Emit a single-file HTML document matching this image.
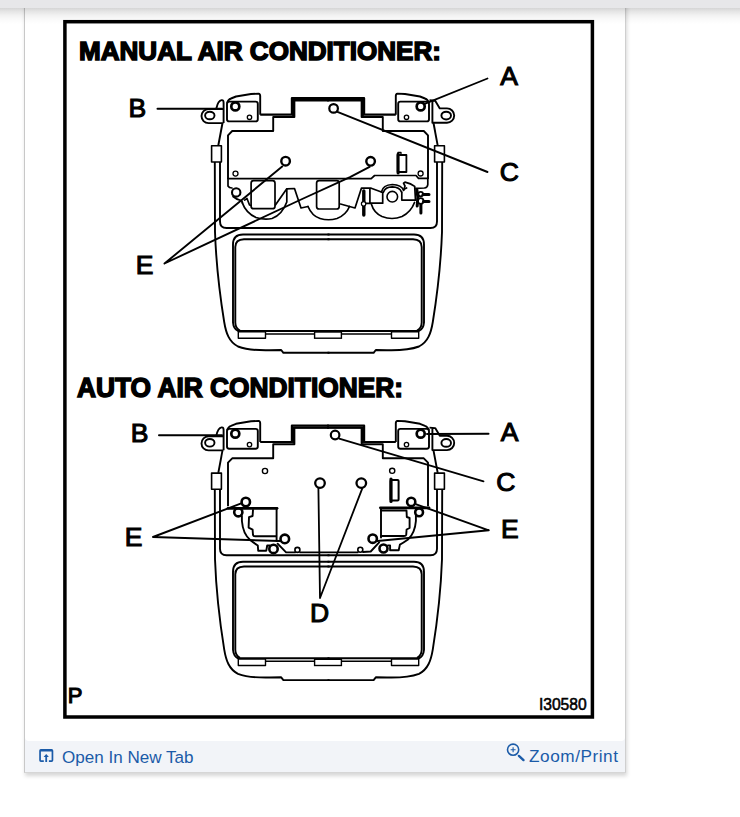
<!DOCTYPE html>
<html><head><meta charset="utf-8"><title>Diagram</title>
<style>
html,body{margin:0;padding:0;background:#fff;}
body{width:740px;height:817px;position:relative;overflow:hidden;font-family:"Liberation Sans",sans-serif;}
.card{position:absolute;left:24px;top:0;width:600px;height:772px;background:#f2f4f8;border-left:1px solid #c8c8c8;border-right:1px solid #cfcfcf;border-bottom:1px solid #d6d6d6;box-shadow:1px 3px 4px rgba(0,0,0,.16);}
.inner{position:absolute;left:0;top:0;width:600px;height:741px;background:#fff;border-radius:0 0 4px 4px;}
.topbar{position:absolute;left:0;top:0;width:740px;height:8px;background:#e7e7e9;}
.tshadow{position:absolute;left:0;top:8px;width:740px;height:16px;background:linear-gradient(rgba(0,0,0,.165),rgba(0,0,0,.10) 22%,rgba(0,0,0,.055) 45%,rgba(0,0,0,.022) 70%,rgba(0,0,0,0));}
svg.d{position:absolute;left:0;top:0;}
</style></head>
<body>
<div class="card"><div class="inner"></div></div>
<div class="topbar"></div><div class="tshadow"></div>
<svg class="d" width="740" height="817" viewBox="0 0 740 817">
<defs>
<g id="halfA" fill="none" stroke="#000" stroke-linecap="butt" stroke-linejoin="round" stroke-width="1.9">
<path d="M227.3 103 Q228 99.5 231 98.5 L236 96.5 L251 94 L258.5 93.6 Q260.2 93.8 260.2 96 L260.2 114.7"/>
<rect x="227" y="101.6" width="30.8" height="19.8" rx="2.2"/>
<circle cx="235.3" cy="106.4" r="4" stroke-width="2.7"/>
<circle cx="249.5" cy="117.3" r="2.2" stroke-width="1.3"/>
<path d="M260.2 114.7 L291.9 114.7 L291.9 98.2 L328.8 98.2" stroke-width="2.2"/>
<path d="M328.8 100.6 L294.4 100.6 L294.4 117 L273.2 117 L273.2 131 L232.2 131 L228 135.3 L228 179"/>
<path d="M292 100 L328.8 100 M293.2 99 L293.2 116" stroke-width="2.2"/>
<path d="M222.5 123 L218.3 145.5"/>
<rect x="211.6" y="145.8" width="9.8" height="16.2" stroke-width="1.6"/>
</g>
<g id="halfB" fill="none" stroke="#000" stroke-linecap="butt" stroke-linejoin="round" stroke-width="1.9">
<path d="M214.8 162 L215 232 C216 260 219 290 224.2 322 C226 333 229 342 238 346.5 C246 349.5 258 350.5 270 350.2 L281.2 350 L283.4 352.8 L329.5 352.8"/>
<path d="M220 162 L220 221.5 Q220 228 226.5 228 L329.5 228"/>
<path d="M329.5 234.5 L243 234.5 Q233 234.5 233 244.5 L233 322.5 Q233.5 329 238 331 L329.5 331"/>
<path d="M329.5 239.2 L244 239.2 Q235.3 239.5 235.3 247 L235.3 322.5 Q235.5 328.5 240 330.5"/>
<path d="M238 334 L329.5 334" stroke-width="1.5"/>
<rect x="238.3" y="331.8" width="27.2" height="6.4" stroke-width="1.4" fill="#fff"/>
</g>
<g id="body">
<use href="#halfA"/>
<use href="#halfB"/>
<use href="#ears"/>
<use href="#halfA" transform="translate(656 0) scale(-1 1)"/>
<use href="#halfB" transform="translate(657 0) scale(-1 1)"/>
<rect x="314.6" y="332" width="26.8" height="6.2" fill="#fff" stroke="#000" stroke-width="1.4"/>
</g>
<g id="ears" fill="none" stroke="#000" stroke-linecap="butt" stroke-linejoin="round" stroke-width="1.9">
<path d="M223.3 109.1 L208.5 109.1 A7 7 0 0 0 208.5 123.1 L223.3 123.1"/>
<ellipse cx="209.8" cy="115.5" rx="4.7" ry="3.8"/>
<path d="M216.4 108.2 C217.4 103.5 219 100.5 221.6 100.1 C223.2 99.9 223.6 101 223.6 103 L223.6 123"/>
<path d="M432.4 100.5 L432.4 122.8 L447 122.8 A7 7 0 0 0 447 108.4 L439.8 108.4 L435.2 100.8 L429.5 100.3"/>
<ellipse cx="446.2" cy="115.6" rx="4.8" ry="3.9"/>
</g>
</defs>
<g fill="none" stroke="#000" stroke-linecap="round" stroke-linejoin="round">
<rect x="64.9" y="21.7" width="527.5" height="695.3" stroke-width="3.5" stroke-linejoin="miter"/>
</g>
<use href="#body"/>
<use href="#body" transform="translate(0 327.3)"/>
<g id="auto" fill="none" stroke="#000" stroke-linecap="round" stroke-linejoin="round" stroke-width="1.9">
<circle cx="265" cy="471" r="2.6" stroke-width="1.4"/>
<circle cx="392.2" cy="470.8" r="2.6" stroke-width="1.4"/>
<circle cx="320" cy="483.1" r="4.8" stroke-width="2.3"/>
<circle cx="361.3" cy="483.1" r="4.8" stroke-width="2.3"/>
<circle cx="335.1" cy="435" r="4.3" stroke-width="2.2"/>
<!-- slide switch -->
<rect x="390.6" y="480" width="8" height="20.6" rx="1" stroke-width="2"/>
<path d="M391 479 L391 501.5" stroke-width="3.2"/>
<!-- left square -->
<path d="M228 508.3 L277 508.3" stroke-width="2.8"/>
<path d="M276.6 508 L276.6 541"/>
<path d="M253 510 L252.6 516 L249 517.2 L248.6 527.6 L252.6 529.6 L253 535 Q253.3 536.3 255 536.3 L276 536.3"/>
<path d="M241.9 516 L241.9 521 Q243 534 250.2 539.9 Q254 543 257.8 545.5 L258.2 550.7 L266.3 550.7 L267.2 545.5 L269.8 545.5"/>
<circle cx="245.8" cy="502" r="4.2" stroke-width="2.6"/>
<circle cx="238.3" cy="512.3" r="4.1" stroke-width="2.6"/>
<circle cx="284.8" cy="538.9" r="4.3" stroke-width="2.6"/>
<circle cx="273.5" cy="548.9" r="4.2" stroke-width="2.6"/>
<path d="M277.6 543.7 L286.1 552.4 L295 552.4 M300.2 552.4 L357.6 552.4 M363 552 L370.7 551.5 L379.2 542.4"/>
<circle cx="297.4" cy="549.9" r="2.5" stroke-width="1.6"/><circle cx="360.3" cy="549.8" r="2.5" stroke-width="1.6"/>
<!-- right square -->
<path d="M380.4 507.8 L429 507.8" stroke-width="2.8"/>
<path d="M381 508 L381 537.5"/>
<path d="M381 510.5 L406.5 510.5 L406.8 517 L409.6 518 L409.6 528 L406.6 529.5 L406.2 535 Q405.8 536 404 536 L381 536"/>
<path d="M415.9 515 L415.9 521 Q415 533 408 539.5 Q403 543 399.9 544.6 L398.7 550.3 L390.1 550.3 L390.1 545.4 L388 545.4"/>
<circle cx="411.2" cy="501.9" r="4.1" stroke-width="2.6"/>
<circle cx="419.1" cy="512.3" r="3.9" stroke-width="2.6"/>
<circle cx="372.7" cy="538.7" r="4.2" stroke-width="2.6"/>
<circle cx="383.5" cy="548.5" r="4" stroke-width="2.6"/>
<!-- leader lines -->
<path d="M153 537 L241.2 503.4 M153 537 L280 541" stroke-width="1.9"/>
<path d="M488.8 530.3 L416.3 504.3 M488.8 530.3 L377.4 541" stroke-width="1.9"/>
<path d="M320 598 L318.4 488.3 M320 598 L362.2 488.6" stroke-width="1.8"/>
<path d="M159 435.3 L222 435.3" stroke-width="2"/>
<path d="M427 434 L488.5 433.8" stroke-width="2"/>
<path d="M339.2 438.6 L483.5 481.3" stroke-width="1.9"/>
</g>
<g id="manual" fill="none" stroke="#000" stroke-linecap="round" stroke-linejoin="round" stroke-width="1.7">
<path d="M228 179 L228 186 Q229 188 232 188"/>
<path d="M228 178.6 L371.2 178.6 L374.6 175.5 L416 175.5 L418.5 178.4 L427.5 178.4"/>
<path d="M427.8 178.4 L427.8 184.5 Q427.6 187.8 424.3 188 L415.8 188.3"/>
<circle cx="235.5" cy="173.6" r="2.5" stroke-width="1.3"/>
<circle cx="420.6" cy="173.5" r="2.5" stroke-width="1.3"/>
<circle cx="285.6" cy="161.2" r="4.3" stroke-width="2.4"/>
<circle cx="370.6" cy="161.3" r="4.3" stroke-width="2.4"/>
<circle cx="333.6" cy="108.4" r="4.3" stroke-width="2.2"/>
<!-- slide switch -->
<rect x="397.6" y="155" width="8.8" height="17" stroke-width="1.8"/>
<path d="M398.1 154 L398.1 173" stroke-width="3"/>
<path d="M398 155 L398 152.5 L401 152.5 L401 155" stroke-width="1.3"/>
<!-- left knob -->
<circle cx="236.2" cy="192.4" r="4.2" stroke-width="2.1"/>
<path d="M233 196.5 Q236.5 199.5 241 200.5 Q242.5 201.5 242.5 203"/>
<path d="M242.2 202.6 Q246 213 256 217.5 Q264 220 272 218.5 Q282 215 286.8 202 L286.8 189"/>
<rect x="251.1" y="180.7" width="23.9" height="28" rx="2.5"/>
<path d="M244.6 200.1 L247 198.5 L249.5 205 L251.1 205.5"/>
<path d="M275.4 205 L286.8 188.8 L294.5 188.5 L301 208 L308 206.5"/>
<!-- middle knob -->
<rect x="316.6" y="180.6" width="22.6" height="28.4" rx="2.5"/>
<path d="M308 206.5 Q312 216 320 218.5 Q328.5 221 337 218.5 Q346 215 349.5 206.5"/>
<path d="M340.5 204 L349.5 206.5 L355 208 L361.4 188.2 L371.2 188.2 L381.4 192"/>
<!-- right knob -->
<path d="M371.5 204.5 Q374 213 382 216.5 Q392 220.5 402 216.5 Q411 212 414.5 202.5"/>
<circle cx="392.3" cy="196.7" r="5.3" stroke-width="1.6"/>
<path d="M381.4 192 Q383 184.8 392.3 184.5 Q401.5 184.8 403.6 190.3"/>
<path d="M383.4 192.3 Q385 187 392.3 186.9 Q399.5 187 401.5 192"/>
<path d="M369.9 189 L369.9 203.2 L382.7 203.2 L382.7 192.3"/>
<path d="M365.1 203.4 L370.5 203.4"/>
<path d="M363.8 191 L363.8 215" stroke-width="3.4"/>
<circle cx="363.6" cy="203.8" r="2.2" fill="#fff" stroke-width="1.2"/>
<path d="M401.8 192 L401.8 200.1 L415.5 200.1"/>
<path d="M403.6 190.3 L405 186 L403.5 183.2 L405 182.2 Q411 183.5 414.7 186.4 L415.5 200.1"/>
<path d="M404.5 189 L406.6 188"/>
<!-- gear -->
<circle cx="420.7" cy="194.1" r="2.3" stroke-width="1.8"/>
<circle cx="420.7" cy="201" r="2.8" stroke-width="1.8"/>
<path d="M423 194.5 L429 194.5 M423.5 201.5 L429 201.5 M420.9 204.5 L420.9 213" stroke-width="3"/>
<path d="M416.8 189.5 L417.8 197 L417.2 206" stroke-width="3"/>
<!-- leader lines -->
<path d="M164.5 263.5 L282.2 166.6 M164.5 263.5 L300 200 L350 177.2 L369.6 166.9" stroke-width="1.9"/>
<path d="M157.5 108.7 L222 108.7" stroke-width="2"/>
<path d="M336.8 111.6 L487.5 172" stroke-width="1.9"/>
<path d="M424 104.2 L487.5 78.5" stroke-width="1.8"/>
</g>
<g font-family="Liberation Sans" font-weight="bold" fill="#000">
<text x="79" y="60" font-size="26" stroke="#000" stroke-width="1.5" textLength="362" lengthAdjust="spacingAndGlyphs">MANUAL AIR CONDITIONER:</text>
<text x="77" y="397" font-size="27" stroke="#000" stroke-width="1.5" textLength="326" lengthAdjust="spacingAndGlyphs">AUTO AIR CONDITIONER:</text>
</g>
<g id="lbl"><g font-family="Liberation Sans" fill="#000" stroke="#000" stroke-width="1.1" text-anchor="middle" font-size="26.5">
<text x="137.3" y="116.5">B</text>
<text x="509" y="84.5">A</text>
<text x="509.3" y="180.5">C</text>
<text x="144.5" y="274.0">E</text>
<text x="139.5" y="442.0">B</text>
<text x="509.5" y="441.0">A</text>
<text x="505.8" y="491.0">C</text>
<text x="133.5" y="546.0">E</text>
<text x="509.8" y="537.6">E</text>
<text x="319.5" y="622.0">D</text>
<text x="75" y="702.5" font-size="22">P</text>
<text x="538.9" y="710" font-size="16.3" stroke-width="0.55" text-anchor="start" textLength="47.8" lengthAdjust="spacingAndGlyphs">I30580</text>
</g>
</g>
<g id="foot">
<g fill="#1b5ba8" stroke="none">
<path d="M40.8 749 H51.6 Q53.3 749 53.3 750.7 V760.2 Q53.3 761.9 51.6 761.9 H48.9 V760.2 H51.6 V751.6 H40.9 V760.2 H43.8 V761.9 H40.9 Q39.2 761.9 39.2 760.2 V750.7 Q39.2 749 40.8 749 Z"/>
<path d="M45.3 761.9 V757 H43.6 L46.2 754 L48.9 757 H47.1 V761.9 Z"/>
</g>
<g fill="none" stroke="#1b5ba8" stroke-linecap="round">
<circle cx="513.1" cy="749.7" r="5.6" stroke-width="1.6"/>
<path d="M518.9 755.9 L523.5 760.1" stroke-width="2.4"/>
<path d="M510.6 749.7 H515.6 M513.1 747.2 V752.2" stroke-width="1.1" stroke-linecap="butt"/>
</g>
<g font-family="Liberation Sans" font-size="17.2" fill="#1b5ba8">
<text x="62" y="762.5" textLength="131.5" lengthAdjust="spacingAndGlyphs">Open In New Tab</text>
<text x="529" y="762.3" textLength="89" lengthAdjust="spacing">Zoom/Print</text>
</g>
</g>
</svg>
</body></html>
